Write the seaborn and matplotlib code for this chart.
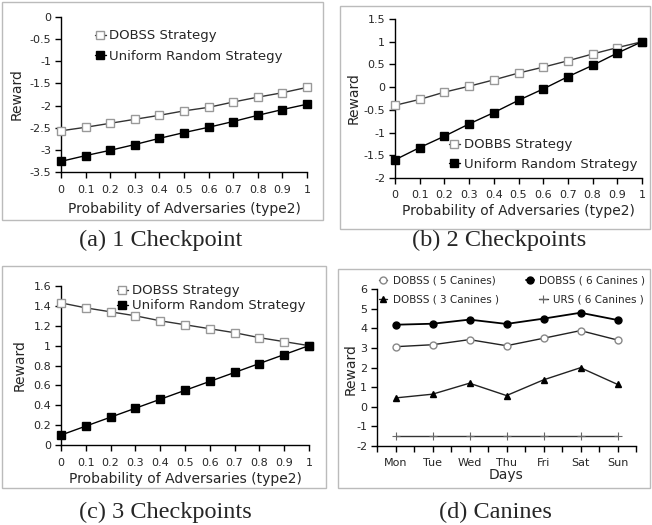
import matplotlib
matplotlib.use("Agg")
import matplotlib.pyplot as plt
import seaborn as sns
from matplotlib.patches import Rectangle
from matplotlib.ticker import FuncFormatter, MultipleLocator

# -------------------------------
# Data
# -------------------------------

prob = [0, 0.1, 0.2, 0.3, 0.4, 0.5, 0.6, 0.7, 0.8, 0.9, 1]

dobss_1cp = [-2.57, -2.49, -2.40, -2.31, -2.22, -2.12, -2.04, -1.92, -1.81, -1.71, -1.59]
urs_1cp = [-3.26, -3.13, -3.01, -2.88, -2.74, -2.61, -2.49, -2.36, -2.22, -2.09, -1.97]

dobbs_2cp = [-0.40, -0.27, -0.11, 0.02, 0.16, 0.31, 0.44, 0.58, 0.73, 0.87, 1.0]
urs_2cp = [-1.60, -1.33, -1.08, -0.81, -0.56, -0.29, -0.04, 0.23, 0.48, 0.75, 1.0]

dobss_3cp = [1.43, 1.38, 1.34, 1.30, 1.25, 1.21, 1.17, 1.13, 1.08, 1.04, 1.0]
urs_3cp = [0.10, 0.19, 0.28, 0.37, 0.46, 0.55, 0.64, 0.73, 0.82, 0.91, 1.0]

days = ["Mon", "Tue", "Wed", "Thu", "Fri", "Sat", "Sun"]
dobss_5can = [3.06, 3.16, 3.42, 3.11, 3.49, 3.88, 3.40]
dobss_6can = [4.18, 4.23, 4.44, 4.22, 4.49, 4.79, 4.42]
dobss_3can = [0.45, 0.64, 1.20, 0.57, 1.37, 1.99, 1.14]
urs_6can = [-1.47, -1.47, -1.47, -1.47, -1.47, -1.47, -1.47]

captions = ["(a) 1 Checkpoint", "(b) 2 Checkpoints", "(c) 3 Checkpoints", "(d) Canines"]

# -------------------------------
# Style
# -------------------------------

sns.set_style("ticks")
plt.rcParams["font.family"] = ["DejaVu Sans"]
plt.rcParams["axes.unicode_minus"] = False

W, H = 652, 525
fig = plt.figure(figsize=(W / 100, H / 100), dpi=100)


def px_rect(l, t, r, b):
    return [l / W, 1 - b / H, (r - l) / W, (b - t) / H]


fmt = FuncFormatter(lambda v, p: "%g" % round(v, 2))

open_sq = dict(marker="s", markersize=5.3, markerfacecolor="white",
               markeredgecolor="#999999", markeredgewidth=1, color="#333333")
full_sq = dict(marker="s", markersize=5.3, markerfacecolor="black",
               markeredgecolor="black", markeredgewidth=1, color="black")


def style_axes(ax, ylim, ystep):
    ax.set_xlim(0, 1)
    ax.set_ylim(*ylim)
    ax.xaxis.set_major_locator(MultipleLocator(0.1))
    ax.yaxis.set_major_locator(MultipleLocator(ystep))
    ax.xaxis.set_major_formatter(fmt)
    ax.yaxis.set_major_formatter(fmt)
    ax.tick_params(axis="both", labelsize=8, length=4, width=1, color="black")
    ax.tick_params(axis="x", pad=5)
    ax.tick_params(axis="y", pad=3)
    sns.despine(ax=ax)
    for s in ["left", "bottom"]:
        ax.spines[s].set_color("black")
        ax.spines[s].set_linewidth(1)
    ax.set_xlabel("Probability of Adversaries (type2)", fontsize=10)
    ax.set_ylabel("Reward", fontsize=10)


def strategy_panel(rect, y1, y2, name1, ylim, ystep, leg_xy, spacing, ylab_x, xlab_y):
    ax = fig.add_axes(rect)
    sns.lineplot(x=prob, y=y1, ax=ax, errorbar=None, linewidth=1,
                 clip_on=False, zorder=3, label=name1, **open_sq)
    sns.lineplot(x=prob, y=y2, ax=ax, errorbar=None, linewidth=1,
                 clip_on=False, zorder=3, label="Uniform Random Strategy", **full_sq)
    style_axes(ax, ylim, ystep)
    ax.legend(loc="upper left", bbox_to_anchor=leg_xy, frameon=False,
              fontsize=9.5, borderpad=0, borderaxespad=0, handlelength=0.8,
              handletextpad=0.3, labelspacing=spacing)
    ax.yaxis.set_label_coords(ylab_x, 0.5)
    ax.xaxis.set_label_coords(0.5, xlab_y)
    return ax


# -------------------------------
# Panels (a) - (c)
# -------------------------------

strategy_panel(px_rect(61, 17, 307, 172), dobss_1cp, urs_1cp, "DOBSS Strategy",
               (-3.5, 0), 0.5, (0.138, 0.92), 0.58, -0.150, -0.194)
strategy_panel(px_rect(395, 19, 642, 178), dobbs_2cp, urs_2cp, "DOBBS Strategy",
               (-2, 1.5), 0.5, (0.219, 0.25), 0.5, -0.138, -0.164)
strategy_panel(px_rect(61, 286, 309, 445), dobss_3cp, urs_3cp, "DOBSS Strategy",
               (0, 1.6), 0.2, (0.226, 1.01), 0.15, -0.137, -0.17)

# -------------------------------
# Panel (d) Canines
# -------------------------------

ax = fig.add_axes(px_rect(377, 289, 636, 446))
pos = list(range(len(days)))
h5 = sns.lineplot(x=pos, y=dobss_5can, ax=ax, errorbar=None, linewidth=1, color="#222222",
                  marker="o", markersize=5, markerfacecolor="white",
                  markeredgecolor="#888888", markeredgewidth=1, clip_on=False).lines[-1]
h6 = sns.lineplot(x=pos, y=dobss_6can, ax=ax, errorbar=None, linewidth=1.3, color="black",
                  marker="o", markersize=5, markerfacecolor="black",
                  markeredgecolor="black", markeredgewidth=1, clip_on=False).lines[-1]
h3 = sns.lineplot(x=pos, y=dobss_3can, ax=ax, errorbar=None, linewidth=1, color="#222222",
                  marker="^", markersize=5, markerfacecolor="black",
                  markeredgecolor="black", markeredgewidth=1, clip_on=False).lines[-1]
hu = sns.lineplot(x=pos, y=urs_6can, ax=ax, errorbar=None, linewidth=1, color="#333333",
                  marker="+", markersize=6, markeredgecolor="#666666",
                  markeredgewidth=0.8, clip_on=False).lines[-1]

ax.set_xlim(-0.5, len(days) - 0.5)
ax.set_ylim(-2, 6)
ax.set_xticks(pos)
ax.set_xticklabels(days)
ax.set_xticks([p - 0.5 for p in pos] + [len(days) - 0.5], minor=True)
ax.yaxis.set_major_locator(MultipleLocator(1))
ax.yaxis.set_major_formatter(fmt)
ax.tick_params(axis="both", which="both", labelsize=8, length=4, width=1, color="black")
ax.tick_params(axis="x", pad=5)
ax.tick_params(axis="y", pad=3)
sns.despine(ax=ax)
for s in ["left", "bottom"]:
    ax.spines[s].set_color("black")
    ax.spines[s].set_linewidth(1)
ax.set_xlabel("Days", fontsize=10)
ax.set_ylabel("Reward", fontsize=10)
ax.yaxis.set_label_coords(-0.073, 0.49)
ax.xaxis.set_label_coords(0.5, -0.14)

leg_kw = dict(loc="upper left", frameon=False, fontsize=7.5, borderpad=0,
              borderaxespad=0, handlelength=0.8, handletextpad=0.5, ncol=2)
leg1 = ax.legend([h5, h6], ["DOBSS ( 5 Canines)", "DOBSS ( 6 Canines )"],
                 bbox_to_anchor=(0.008, 1.085), columnspacing=2.9, **leg_kw)
ax.add_artist(leg1)
ax.legend([h3, hu], ["DOBSS ( 3 Canines )", "URS ( 6 Canines )"],
          bbox_to_anchor=(0.008, 0.963), columnspacing=3.9, **leg_kw)

# -------------------------------
# Panel frames and captions
# -------------------------------

frames = [(2, 2, 323, 220), (340, 6, 650, 229), (2, 266, 326, 488), (338, 269, 650, 488)]
for l, t, r, b in frames:
    fig.add_artist(Rectangle((l / W, 1 - b / H), (r - l) / W, (b - t) / H,
                             transform=fig.transFigure, fill=False,
                             edgecolor="#bbbbbb", linewidth=1))

cap_pos = [(161, 240), (499, 240), (165, 512), (495, 512)]
for (cx, cy), text in zip(cap_pos, captions):
    fig.text(cx / W, 1 - cy / H, text, ha="center", va="center",
             fontsize=17.5, family=["Liberation Serif", "DejaVu Serif"])

fig.savefig("out.png", dpi=100)
